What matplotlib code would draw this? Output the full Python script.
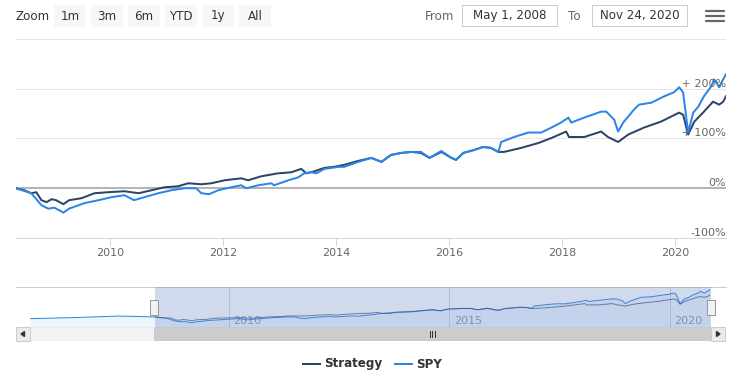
import matplotlib
matplotlib.use('Agg')
import matplotlib.pyplot as plt
from matplotlib.patches import Rectangle, Polygon
import numpy as np

# data (decimal year, % change since start)
strategy_year = [2008.33, 2008.48, 2008.60, 2008.69, 2008.78, 2008.87, 2008.96, 2009.04, 2009.17, 2009.27,
                 2009.49, 2009.72, 2009.96, 2010.25, 2010.50, 2010.73, 2010.96, 2011.20, 2011.38, 2011.61,
                 2011.79, 2012.02, 2012.32, 2012.44, 2012.67, 2012.97, 2013.20, 2013.38, 2013.47, 2013.61,
                 2013.79, 2013.96, 2014.14, 2014.39, 2014.62, 2014.80, 2014.97, 2015.15, 2015.33, 2015.50,
                 2015.65, 2015.86, 2016.04, 2016.12, 2016.25, 2016.44, 2016.60, 2016.74, 2016.87, 2016.97,
                 2017.27, 2017.58, 2017.81, 2018.07, 2018.12, 2018.39, 2018.69, 2018.81, 2018.99, 2019.17,
                 2019.45, 2019.75, 2020.07, 2020.14, 2020.23, 2020.34, 2020.51, 2020.67, 2020.78, 2020.85,
                 2020.90]
strategy_pct = [0, -4, -10, -8, -24, -28, -22, -24, -32, -24,
                -20, -10, -8, -6, -10, -4, 2, 4, 10, 8,
                10, 16, 20, 16, 24, 30, 32, 39, 30, 34,
                41, 43, 47, 55, 61, 53, 67, 71, 73, 71,
                61, 73, 61, 57, 71, 77, 83, 81, 73, 73,
                81, 91, 101, 114, 103, 103, 114, 103, 93, 108,
                122, 134, 152, 148, 108, 134, 154, 174, 168, 174,
                185]

spy_year = [2008.33, 2008.60, 2008.78, 2008.90, 2009.01, 2009.17, 2009.27, 2009.54, 2009.79, 2010.02,
            2010.25, 2010.42, 2010.60, 2010.85, 2011.08, 2011.31, 2011.52, 2011.61, 2011.75, 2011.91,
            2012.14, 2012.32, 2012.41, 2012.62, 2012.85, 2012.90, 2013.15, 2013.33, 2013.43, 2013.56,
            2013.65, 2013.79, 2014.04, 2014.14, 2014.39, 2014.62, 2014.80, 2014.97, 2015.15, 2015.33,
            2015.50, 2015.65, 2015.86, 2016.04, 2016.12, 2016.25, 2016.44, 2016.60, 2016.74, 2016.87,
            2016.92, 2017.15, 2017.40, 2017.63, 2017.81, 2017.98, 2018.11, 2018.16, 2018.39, 2018.69,
            2018.78, 2018.92, 2018.99, 2019.08, 2019.27, 2019.36, 2019.58, 2019.81, 2019.98, 2020.07,
            2020.14, 2020.23, 2020.32, 2020.41, 2020.51, 2020.64, 2020.69, 2020.78, 2020.85, 2020.90]
spy_pct = [0, -10, -34, -41, -39, -49, -41, -30, -24, -18,
           -14, -24, -18, -10, -4, 0, 0, -10, -12, -4,
           2, 6, 0, 6, 10, 6, 16, 22, 30, 32,
           30, 39, 43, 43, 53, 61, 53, 67, 71, 73,
           73, 61, 75, 61, 57, 71, 77, 83, 81, 73,
           93, 103, 112, 112, 122, 132, 142, 132, 142, 154,
           154, 138, 114, 132, 158, 168, 172, 185, 193, 203,
           193, 112, 152, 164, 185, 205, 219, 203, 219, 229]

# navigator shows a short stretch before the selected range
pre_year = [2005.5, 2006.5, 2007.5, 2007.9, 2008.33]
pre_pct = [-14, -5, 8, 5, 0]

y_ticks = [-100, 0, 100, 200]
x_ticks = [2010, 2012, 2014, 2016, 2018, 2020]
nav_ticks = [2010, 2015, 2020]
buttons = ['1m', '3m', '6m', 'YTD', '1y', 'All']
date_from = 'May 1, 2008'
date_to = 'Nov 24, 2020'

c_strat = '#2c4467'
c_spy = '#2a86e8'
W, H = 742, 380
PX = 0.72  # one pixel in points at dpi 100

fig = plt.figure(figsize=(W / 100, H / 100), dpi=100)
fig.patch.set_facecolor('white')


def rect(x0, y0, x1, y1):
    return [x0 / W, 1 - y1 / H, (x1 - x0) / W, (y1 - y0) / H]


# overlay for toolbar, scrollbar, legend (pixel coords)
ov = fig.add_axes([0, 0, 1, 1], zorder=0)
ov.set_xlim(0, W)
ov.set_ylim(H, 0)
ov.axis('off')

# main chart
ax = fig.add_axes(rect(16, 39, 726, 238), zorder=2)
ax.patch.set_alpha(0)
ax.set_xlim(2008.33, 2020.90)
ax.set_ylim(-100, 300)
for s in ax.spines.values():
    s.set_visible(False)
for v in [100, 200, 300]:
    ax.axhline(v, color='#e6e6e6', lw=PX, zorder=0)
ax.axhline(0, color='#b5b5b5', lw=2 * PX, zorder=0)
ax.axhline(-100, color='#ccd6eb', lw=PX, zorder=0, clip_on=False)
ax.plot(strategy_year, strategy_pct, color=c_strat, lw=2 * PX, zorder=3)
ax.plot(spy_year, spy_pct, color=c_spy, lw=2 * PX, zorder=4)
ax.set_yticks([])
ax.set_xticks(x_ticks)
ax.set_xticklabels([str(t) for t in x_ticks])
ax.tick_params(axis='x', length=8 * PX, width=PX, color='#ccd6eb', labelcolor='#666666',
               labelsize=8, pad=1.5)
for v in y_ticks:
    lab = (' + ' if v > 0 else '') + str(v) + '%'
    ax.text(1.0, v, lab, transform=ax.get_yaxis_transform(), ha='right', va='bottom',
            fontsize=8, color='#666666', zorder=5)

# navigator
nav = fig.add_axes(rect(30, 287, 711, 327), zorder=2)
nav.patch.set_alpha(0)
nav.set_xlim(2005.5, 2020.93)
nav.set_ylim(-85, 255)
for s in nav.spines.values():
    s.set_visible(False)
nav.set_xticks([])
nav.set_yticks([])
for t in nav_ticks:
    nav.axvline(t, color='#d8d8d8', lw=PX, zorder=1)
    nav.text(t + 0.1, -30, str(t), color='#999999', fontsize=8, va='center', ha='left', zorder=1)
nav_x = pre_year + spy_year[1:]
nav_y = pre_pct + spy_pct[1:]
nav.fill_between(nav_x, nav_y, -85, color=c_spy, alpha=0.08, lw=0, zorder=2)
nav.plot(nav_x, nav_y, color=c_spy, lw=PX, zorder=3)
nav.plot(strategy_year, strategy_pct, color=c_strat, lw=PX, alpha=0.7, zorder=3)
nav.axvspan(2008.33, 2020.93, color=(102 / 255, 133 / 255, 194 / 255), alpha=0.3, lw=0, zorder=4)

# navigator outline and handles
ov.plot([16, 726], [287, 287], color='#cccccc', lw=PX)
for hx in [154, 711]:
    fig_h = Rectangle((hx - 4, 299.5), 8, 15, facecolor='#f2f2f2', edgecolor='#999999', lw=PX, zorder=6)
    hax = fig.add_axes([0, 0, 1, 1], zorder=6)
    hax.set_xlim(0, W)
    hax.set_ylim(H, 0)
    hax.axis('off')
    hax.add_patch(fig_h)
    hax.plot([hx - 1.2, hx - 1.2], [303, 311], color='#333333', lw=PX * 0.8)
    hax.plot([hx + 1.2, hx + 1.2], [303, 311], color='#333333', lw=PX * 0.8)

# scrollbar
ov.add_patch(Rectangle((30, 327), 681, 14, facecolor='#f2f2f2', edgecolor='none'))
ov.add_patch(Rectangle((154, 327), 557, 14, facecolor='#cccccc', edgecolor='none'))
for gx in [429.5, 432, 434.5]:
    ov.plot([gx, gx], [331, 337], color='#333333', lw=PX)
ov.add_patch(Rectangle((16, 327), 14, 14, facecolor='#ebebeb', edgecolor='#cccccc', lw=PX))
ov.add_patch(Rectangle((711, 327), 14, 14, facecolor='#ebebeb', edgecolor='#cccccc', lw=PX))
ov.add_patch(Polygon([[24.5, 331.5], [21, 334], [24.5, 336.5]], closed=True, color='#333333'))
ov.add_patch(Polygon([[716.5, 331.5], [720, 334], [716.5, 336.5]], closed=True, color='#333333'))

# toolbar
ov.text(16, 16.5, 'Zoom', fontsize=8.6, color='#333333', va='center', ha='left')
bx = 54
for b in buttons:
    ov.add_patch(Rectangle((bx, 5), 32, 22, facecolor='#f7f7f7', edgecolor='none'))
    ov.text(bx + 16, 16, b, fontsize=8.6, color='#333333', va='center', ha='center')
    bx += 37
ov.text(425, 16, 'From', fontsize=8.6, color='#666666', va='center', ha='left')
ov.add_patch(Rectangle((462, 5), 95, 21, facecolor='white', edgecolor='#cccccc', lw=PX))
ov.text(509.5, 15.5, date_from, fontsize=8.6, color='#333333', va='center', ha='center')
ov.text(568, 16, 'To', fontsize=8.6, color='#666666', va='center', ha='left')
ov.add_patch(Rectangle((592, 5), 95, 21, facecolor='white', edgecolor='#cccccc', lw=PX))
ov.text(639.5, 15.5, date_to, fontsize=8.6, color='#333333', va='center', ha='center')
for hy in [11, 16, 21]:
    ov.plot([706, 724], [hy, hy], color='#666666', lw=2.2 * PX, solid_capstyle='round')

# legend
ov.plot([303, 320], [364, 364], color=c_strat, lw=2 * PX)
ov.text(324, 364, 'Strategy', fontsize=8.6, fontweight='bold', color='#333333', va='center', ha='left')
ov.plot([395, 412], [364, 364], color=c_spy, lw=2 * PX)
ov.text(416, 364, 'SPY', fontsize=8.6, fontweight='bold', color='#333333', va='center', ha='left')

fig.savefig('out.png', dpi=100)
